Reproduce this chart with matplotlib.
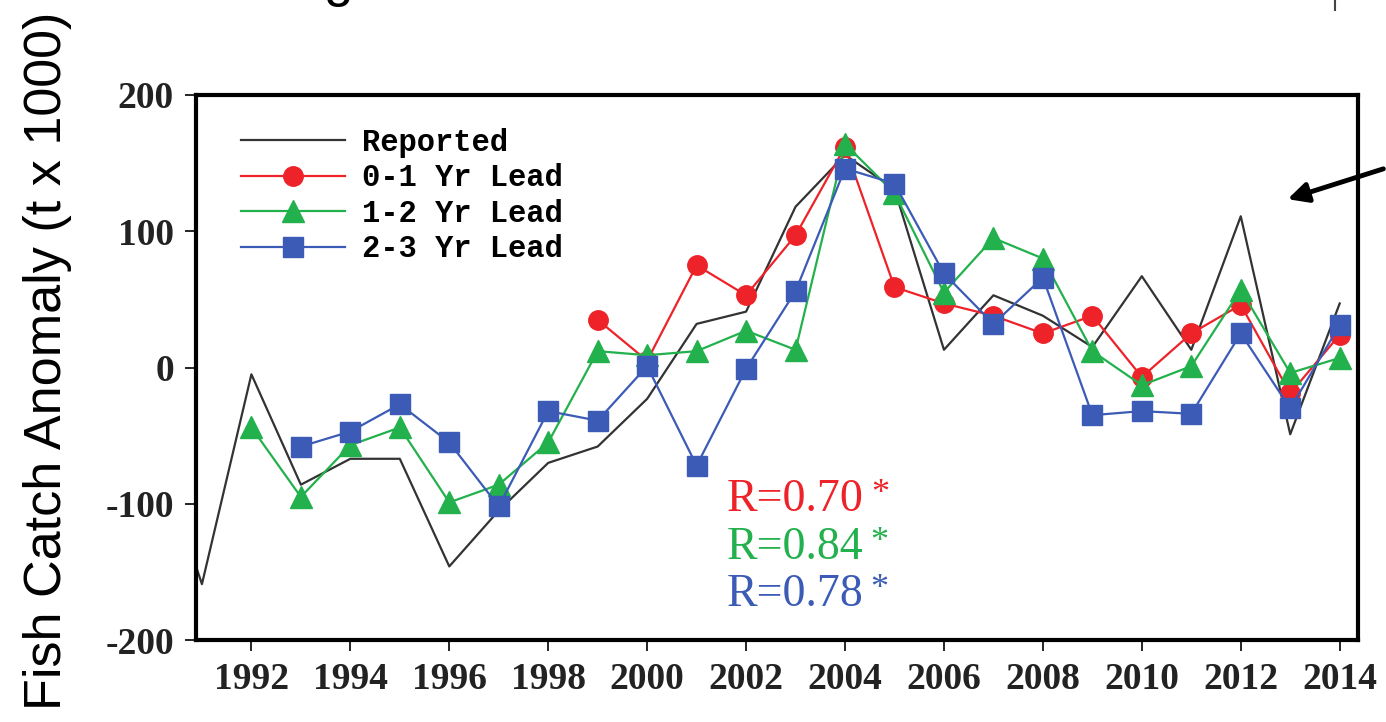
import numpy as np
import matplotlib.pyplot as plt

# data (fish catch anomaly, t x 1000)
# 1990 sits just outside the x range, only its line segment shows
years_rep = list(range(1990, 2015))
reported = [-50, -159, -5, -86, -67, -67, -146, -105, -70, -58, -23, 32, 41,
            118, 156, 131, 13, 53, 38, 15, 67, 13, 111, -49, 47]

years_01 = list(range(1999, 2015))
lead_01 = [35, 5, 75, 53, 97, 162, 59, 47, 38, 25, 38, -7, 25, 46, -19, 24]

years_12 = list(range(1992, 2015))
lead_12 = [-44, -95, -57, -44, -99, -86, -55, 12, 9, 12, 27, 13, 164, 128,
           55, 95, 80, 12, -13, 1, 57, -4, 7]

years_23 = list(range(1993, 2015))
lead_23 = [-58, -47, -27, -55, -102, -32, -39, 1, -72, -1, 56, 146, 135,
           69, 32, 66, -35, -32, -34, 25, -30, 31]

r_labels = ['R=0.70', 'R=0.84', 'R=0.78']

RED = '#ee2229'
GREEN = '#22b14c'
BLUE = '#3b5bb6'

fig = plt.figure(figsize=(13.86, 7.22), dpi=100)
ax = fig.add_axes([196 / 1386, 1 - 640 / 722, (1358 - 196) / 1386, (640 - 95) / 722])

ax.plot(years_rep, reported, color='#333333', lw=1.6, label='Reported', zorder=2)
ax.plot(years_01, lead_01, color=RED, lw=1.6, marker='o', ms=14,
        label='0-1 Yr Lead', zorder=3)
ax.plot(years_12, lead_12, color=GREEN, lw=1.6, marker='^', ms=16,
        label='1-2 Yr Lead', zorder=4)
ax.plot(years_23, lead_23, color=BLUE, lw=1.6, marker='s', ms=15,
        label='2-3 Yr Lead', zorder=5)

ax.set_xlim(1990.88, 2014.37)
ax.set_ylim(-200, 200)
ax.set_xticks(range(1992, 2015, 2))
ax.set_yticks([-200, -100, 0, 100, 200])
ax.set_yticklabels(['-200', '-100', '0', '100', '200'])

for sp in ax.spines.values():
    sp.set_linewidth(3)
ax.tick_params(direction='out', length=8, width=1.2, pad=8)
for lab in ax.get_xticklabels() + ax.get_yticklabels():
    lab.set_family('Liberation Serif')
    lab.set_fontsize(27)
    lab.set_fontweight('bold')
    lab.set_color('#222222')

leg = ax.legend(loc='upper left', bbox_to_anchor=(0.026, 0.968), frameon=False,
                borderpad=0, handlelength=3.4, handletextpad=0.55,
                labelspacing=0.18,
                prop={'family': 'Liberation Mono', 'weight': 'bold', 'size': 22})

r_colors = [RED, GREEN, BLUE]
r_y = [0.257, 0.170, 0.083]
for lab, col, yy in zip(r_labels, r_colors, r_y):
    t = ax.text(0.457, yy, lab, transform=ax.transAxes, color=col,
                fontsize=33, family='Liberation Serif', ha='left', va='center')
    ax.annotate('*', xy=(1, 0.62), xycoords=t, xytext=(5, 0),
                textcoords='offset points', color=col, fontsize=26,
                family='Liberation Serif', ha='left', va='center')

fig.text(0.034, 0.5, 'Fish Catch Anomaly (t x 1000)', rotation=90,
         ha='center', va='center', fontsize=37.5, family='Liberation Sans')

# cropped fragments of the surrounding figure
fig.text(338 / 1386, 1 + 4 / 722, 'g', ha='center', va='baseline',
         fontsize=38, family='Liberation Sans')
fig.add_artist(plt.Line2D([1335 / 1386, 1335 / 1386], [1, 1 - 10 / 722],
                          color='#444444', lw=1.5))
fig.add_artist(plt.Annotation('', xy=(1285 / 1386, 1 - 200 / 722),
                              xytext=(1386 / 1386, 1 - 168 / 722),
                              xycoords='figure fraction',
                              arrowprops=dict(arrowstyle='-|>', lw=3.5,
                                              color='black',
                                              mutation_scale=30)))

fig.savefig('out.png', dpi=100)
